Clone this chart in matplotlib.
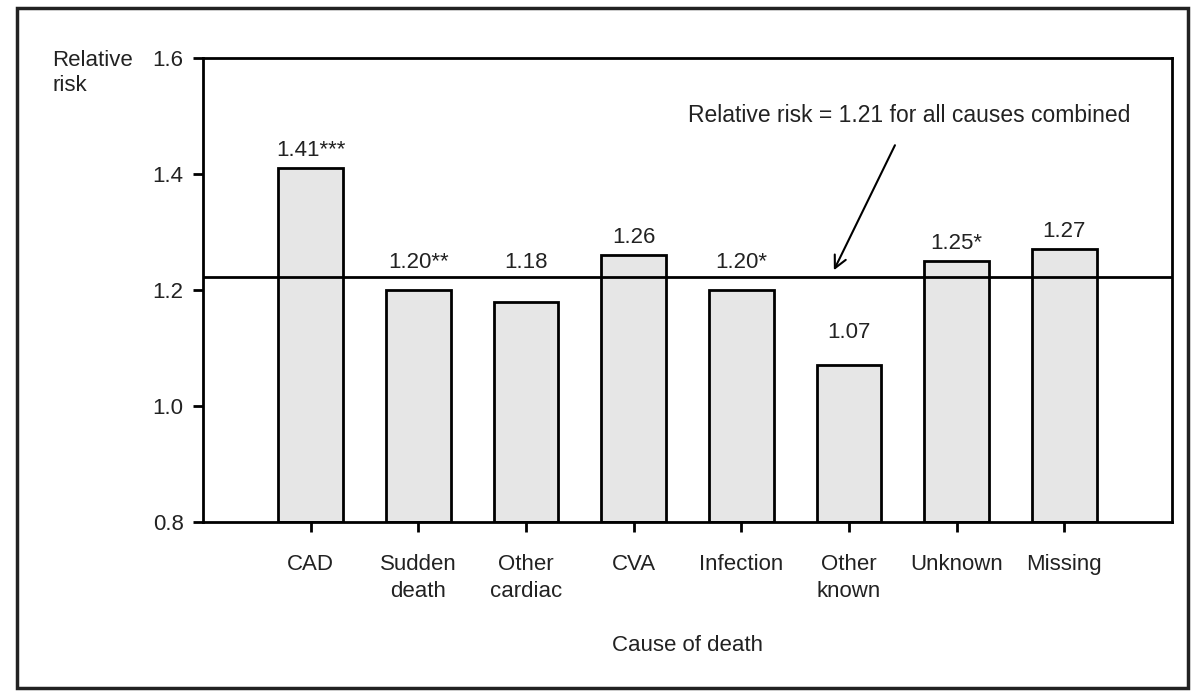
import matplotlib
matplotlib.use("Agg")
import matplotlib.pyplot as plt
from matplotlib.patches import Rectangle

# data
causes = ["CAD", "Sudden\ndeath", "Other\ncardiac", "CVA", "Infection",
          "Other\nknown", "Unknown", "Missing"]
rel_risk = [1.41, 1.20, 1.18, 1.26, 1.20, 1.07, 1.25, 1.27]
bar_labels = ["1.41***", "1.20**", "1.18", "1.26", "1.20*", "1.07", "1.25*", "1.27"]
combined_rr = 1.222          # where the reference line sits in the picture
combined_text = "Relative risk = 1.21 for all causes combined"
yticks = [0.8, 1.0, 1.2, 1.4, 1.6]

plt.rcParams['font.family'] = ['Liberation Sans', 'DejaVu Sans']
FS = 16

fig = plt.figure(figsize=(11.91, 6.91), dpi=100)
ax = fig.add_axes([0.1704, 0.2446, 0.8136, 0.6715])

x = list(range(len(causes)))
ax.bar(x, [v - 0.8 for v in rel_risk], bottom=0.8, width=0.6,
       color="#e6e6e6", edgecolor="black", linewidth=2, zorder=2)
ax.axhline(combined_rr, color="black", linewidth=2, zorder=3)

# value labels: bars below the reference line get their label just above it
for xi, v, lab in zip(x, rel_risk, bar_labels):
    if lab == "1.07":
        ly = v + 0.056
    elif v < combined_rr:
        ly = combined_rr + 0.026
    else:
        ly = v + 0.03
    ax.text(xi, ly, lab, ha="center", va="center", fontsize=FS, color="#222222")

ax.annotate(combined_text, xy=(4.86, 1.234), xytext=(5.56, 1.50),
            ha="center", va="center", fontsize=FS + 0.5, color="#222222",
            arrowprops=dict(arrowstyle="->", color="black", lw=1.5,
                            mutation_scale=22, shrinkA=12, shrinkB=0))

ax.set_xlim(-1, 8)
ax.set_ylim(0.8, 1.6)
ax.set_yticks(yticks)
ax.set_yticklabels([f"{t:.1f}" for t in yticks], fontsize=FS, color="#222222")
ax.set_xticks(x)
ax.set_xticklabels(causes, fontsize=FS, color="#222222", linespacing=1.35)
ax.tick_params(axis="y", direction="out", length=7, width=2, pad=7)
ax.tick_params(axis="x", direction="out", length=7, width=2, pad=16)
ax.set_xlabel("Cause of death", fontsize=FS, color="#222222", labelpad=24)
for s in ax.spines.values():
    s.set_linewidth(2)

fig.text(52 / 1191, 1 - 73 / 691, "Relative\nrisk", ha="left", va="center",
         fontsize=FS, color="#222222", linespacing=1.2)

# outer frame
fig.patches.append(Rectangle((17 / 1191, 3 / 691), 1171 / 1191, 680 / 691,
                             transform=fig.transFigure, fill=False,
                             edgecolor="#222222", linewidth=2.5))

fig.savefig("out.png", dpi=100)
